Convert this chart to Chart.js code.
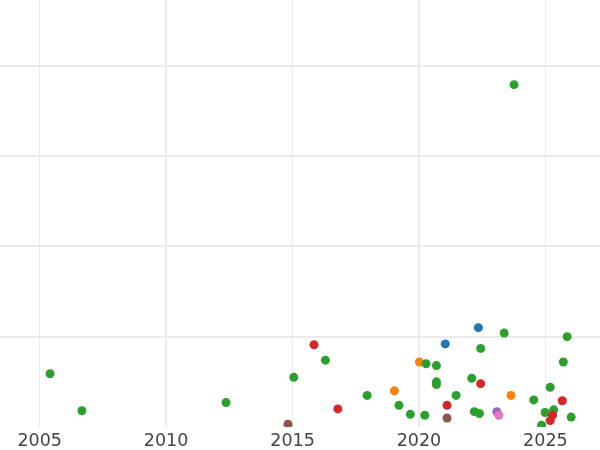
<!DOCTYPE html>
<html>
<head>
<meta charset="utf-8">
<script src="https://cdn.jsdelivr.net/npm/chart.js@4"></script>
<style>
  html, body { margin: 0; padding: 0; background: #ffffff; }
  canvas { display: block; }
</style>
</head>
<body>
<canvas id="scatterChart" width="600" height="450"></canvas>
<script>
// Dữ liệu: năm (x) và giá trị (y) cho từng nhóm màu
const blueYears = [2021.04, 2022.35];
const blueValues = [0.92, 1.10];

const orangeYears = [2019.03, 2020.02, 2023.64];
const orangeValues = [0.40, 0.72, 0.35];

const greenYears = [2005.41, 2006.67, 2012.37, 2015.05, 2016.30, 2017.95, 2019.21, 2019.66,
    2020.23, 2020.28, 2020.69, 2020.69, 2020.69, 2021.47, 2022.09, 2022.19, 2022.39, 2022.44,
    2023.37, 2023.76, 2024.54, 2024.85, 2024.99, 2025.19, 2025.33, 2025.71, 2025.86, 2026.02];
const greenValues = [0.59, 0.18, 0.27, 0.55, 0.74, 0.35, 0.24, 0.14,
    0.13, 0.70, 0.68, 0.50, 0.47, 0.35, 0.54, 0.17, 0.15, 0.87,
    1.04, 3.79, 0.30, 0.02, 0.16, 0.44, 0.19, 0.72, 1.00, 0.11];

const redYears = [2015.85, 2016.79, 2021.11, 2022.44, 2025.28, 2025.19, 2025.67];
const redValues = [0.91, 0.20, 0.24, 0.48, 0.13, 0.07, 0.29];

const purpleYears = [2023.08];
const purpleValues = [0.17];

const brownYears = [2014.82, 2021.11];
const brownValues = [0.03, 0.10];

const pinkYears = [2023.16];
const pinkValues = [0.13];

const xTicks = [2005, 2010, 2015, 2020, 2025];

function toPoints(xs, ys) {
    return xs.map((x, i) => ({ x: x, y: ys[i] }));
}

const groups = [
    { name: 'blue', xs: blueYears, ys: blueValues, color: '#1f77b4' },
    { name: 'orange', xs: orangeYears, ys: orangeValues, color: '#ff7f0e' },
    { name: 'green', xs: greenYears, ys: greenValues, color: '#2ca02c' },
    { name: 'red', xs: redYears, ys: redValues, color: '#d62728' },
    { name: 'purple', xs: purpleYears, ys: purpleValues, color: '#9467bd' },
    { name: 'brown', xs: brownYears, ys: brownValues, color: '#8c564b' },
    { name: 'pink', xs: pinkYears, ys: pinkValues, color: '#e377c2' }
];

const ctx = document.getElementById('scatterChart').getContext('2d');
const scatterChart = new Chart(ctx, {
    type: 'scatter',
    data: {
        datasets: groups.map((g, i) => ({
            label: g.name,
            data: toPoints(g.xs, g.ys),
            backgroundColor: g.color,
            borderWidth: 0,
            pointRadius: 4.5,
            order: groups.length - i
        }))
    },
    options: {
        responsive: false,
        animation: false,
        layout: { padding: 0, autoPadding: false },
        plugins: {
            legend: { display: false },
            tooltip: { enabled: false }
        },
        scales: {
            x: {
                type: 'linear',
                min: 2003.43,
                max: 2027.16,
                border: { display: false },
                grid: {
                    color: '#ebebeb',
                    lineWidth: (c) => (c.tick && c.tick.value % 10 === 0) ? 2 : 1,
                    drawTicks: false
                },
                afterBuildTicks: (axis) => {
                    axis.ticks = xTicks.map(v => ({ value: v }));
                },
                afterFit: (axis) => {
                    axis.height = 23; // khớp vị trí đáy vùng vẽ
                },
                ticks: {
                    color: '#444444',
                    font: { family: 'DejaVu Sans', size: 17.5 },
                    padding: 3.5,
                    maxRotation: 0,
                    minRotation: 0,
                    callback: (v) => String(v)
                }
            },
            y: {
                type: 'linear',
                min: 0,
                max: 4.727,
                border: { display: false },
                grid: {
                    color: (c) => (c.tick && c.tick.value === 0) ? 'rgba(0,0,0,0)' : '#ebebeb',
                    lineWidth: 2,
                    drawTicks: false
                },
                ticks: {
                    display: false,
                    stepSize: 1,
                    includeBounds: false
                }
            }
        }
    }
});
</script>
</body>
</html>
